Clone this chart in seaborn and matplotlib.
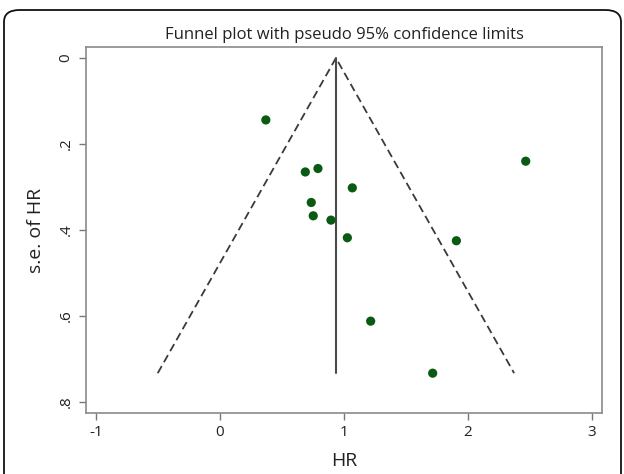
import numpy as np
import pandas as pd
import matplotlib
matplotlib.use("Agg")
import matplotlib.pyplot as plt
from matplotlib.patches import FancyBboxPatch
import seaborn as sns

# Data
hr = [0.37, 2.465, 0.688, 0.79, 1.067, 0.736, 0.752, 0.895, 1.027, 1.906, 1.215, 1.715]
se_hr = [0.144, 0.240, 0.265, 0.257, 0.302, 0.336, 0.367, 0.377, 0.418, 0.425, 0.612, 0.733]
pooled = 0.935
z95 = 1.96
xticks = [-1, 0, 1, 2, 3]
xticklabels = ["-1", "0", "1", "2", "3"]
yticks = [0, 0.2, 0.4, 0.6, 0.8]
yticklabels = ["0", ".2", ".4", ".6", ".8"]

sns.set_theme(style="white")
plt.rcParams['font.family'] = ['Open Sans', 'DejaVu Sans']

fig = plt.figure(figsize=(6.24, 4.74), dpi=100)
ax = fig.add_axes([86/624, 1-413/474, (602-86)/624, (413-47)/474])

df = pd.DataFrame({"HR": hr, "se": se_hr})
semax = max(se_hr)
# funnel limits
ax.plot([pooled - z95*semax, pooled, pooled + z95*semax], [semax, 0, semax],
        linestyle=(0, (4.5, 2.5)), color="#3a3a3a", lw=1.3)
ax.plot([pooled, pooled], [0, semax], color="#4a4a4a", lw=1.5)
sns.scatterplot(data=df, x="HR", y="se", ax=ax, color="#0b5a14", s=44,
                edgecolor="none", zorder=3)

ax.set_xlim(-1.08, 3.08)
ax.set_ylim(0.8256, -0.0256)
ax.set_xticks(xticks)
ax.set_xticklabels(xticklabels)
ax.set_yticks(yticks)
ax.set_yticklabels(yticklabels, rotation=90, va="center")
ax.tick_params(axis="both", which="both", direction="out", length=5, width=1,
               color="#777777", labelsize=11, labelcolor="#222222", pad=4,
               bottom=True, left=True)
for s in ax.spines.values():
    s.set_color("#8a8a8a")
    s.set_linewidth(1.2)

ax.set_xlabel("HR", fontsize=14, color="#222222", labelpad=8)
ax.set_ylabel("s.e. of HR", fontsize=14, color="#222222", labelpad=10)
ax.set_title("Funnel plot with pseudo 95% confidence limits", fontsize=12,
             color="#222222", pad=6)

box = FancyBboxPatch((4/624, -0.2), 617/624, 1.2 - 10/474,
                     boxstyle="round,pad=0,rounding_size=0.025",
                     transform=fig.transFigure, fill=False, edgecolor="#111111",
                     lw=1.3, clip_on=False)
fig.patches.append(box)

fig.savefig("out.png", dpi=100)
